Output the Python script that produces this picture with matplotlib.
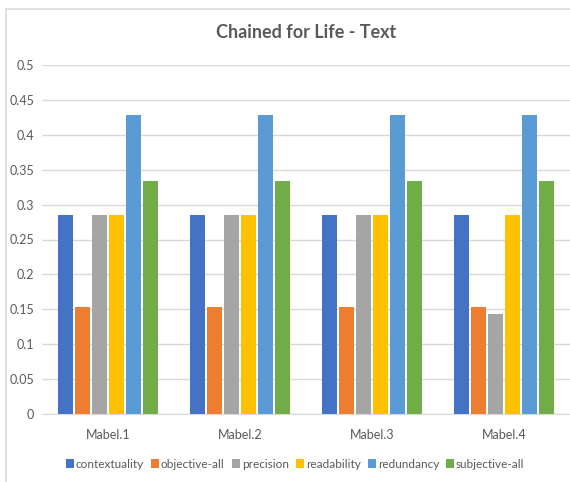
import matplotlib
matplotlib.use("Agg")
import matplotlib.pyplot as plt
from matplotlib.patches import Rectangle
import numpy as np

categories = ["Mabel.1", "Mabel.2", "Mabel.3", "Mabel.4"]
series_names = ["contextuality", "objective-all", "precision", "readability", "redundancy", "subjective-all"]
contextuality = [0.2857, 0.2857, 0.2857, 0.2857]
objective_all = [0.1538, 0.1538, 0.1538, 0.1538]
precision = [0.2857, 0.2857, 0.2857, 0.1429]
readability = [0.2857, 0.2857, 0.2857, 0.2857]
redundancy = [0.4286, 0.4286, 0.4286, 0.4286]
subjective_all = [0.3333, 0.3333, 0.3333, 0.3333]
yticks = [0, 0.05, 0.1, 0.15, 0.2, 0.25, 0.3, 0.35, 0.4, 0.45, 0.5]
ytick_labels = ["0", "0.05", "0.1", "0.15", "0.2", "0.25", "0.3", "0.35", "0.4", "0.45", "0.5"]

colors = ["#4472C4", "#ED7D31", "#A5A5A5", "#FFC000", "#5B9BD5", "#70AD47"]

plt.rcParams["font.family"] = ["Lato", "DejaVu Sans"]

fig = plt.figure(figsize=(5.7, 4.82), dpi=100)
ax = fig.add_axes([42/570, 1-414/482, 1-42/570, (414-65)/482])

data = [contextuality, objective_all, precision, readability, redundancy, subjective_all]
x = np.arange(len(categories))
slot = 0.129
bw = 0.108
for i, (name, vals, c) in enumerate(zip(series_names, data, colors)):
    ax.bar(x + (i - 2.5) * slot, vals, width=bw, color=c, label=name, zorder=3)

ax.set_xlim(-0.5, 3.5)
ax.set_ylim(0, 0.5)
ax.set_yticks(yticks)
ax.set_yticklabels(ytick_labels)
ax.set_xticks(x)
ax.set_xticklabels(categories)
ax.grid(axis="y", color="#D9D9D9", linewidth=1, zorder=0)
for s in ["top", "right", "left"]:
    ax.spines[s].set_visible(False)
ax.spines["bottom"].set_color("#D9D9D9")
ax.tick_params(axis="both", length=0, colors="#595959", labelsize=9)
ax.tick_params(axis="x", pad=11)
ax.tick_params(axis="y", pad=5.5)

fig.text(0.5 + 21/570, 1-33/482, "Chained for Life - Text", ha="center", va="center",
         fontsize=13, fontweight="bold", color="#595959")

leg = fig.legend(loc="center", bbox_to_anchor=(295/570, 1-464/482), ncol=6, frameon=False,
                 fontsize=8.5, handlelength=0.7, handleheight=0.7, handletextpad=0.15,
                 columnspacing=0.6, labelcolor="#595959")

fig.patches.append(Rectangle((6/570, -0.1), 1.2, 1.1 - 9/482, transform=fig.transFigure,
                             fill=False, edgecolor="#D9D9D9", linewidth=1.2))

fig.savefig("out.png", dpi=100)
